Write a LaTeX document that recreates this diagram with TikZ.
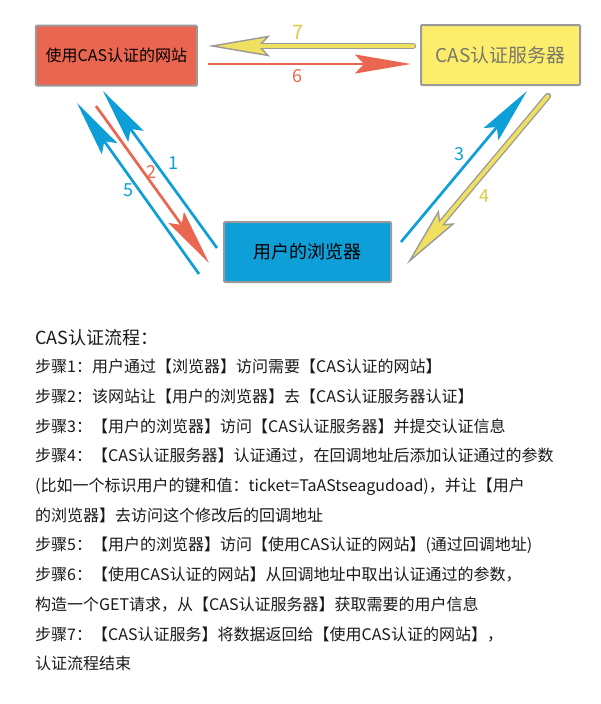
\documentclass[tikz,border=0pt]{standalone}
\usepackage{fontspec}
\setmainfont{Noto Sans CJK SC}
\usetikzlibrary{arrows.meta}

\definecolor{casred}{HTML}{EB6650}
\definecolor{casyellow}{HTML}{FCEE6C}
\definecolor{casblue}{HTML}{0E9ED8}
\definecolor{arrowyellow}{HTML}{F0E060}
\definecolor{labelyellow}{HTML}{DCCB45}
\definecolor{boxgray}{HTML}{9A9A9A}
\definecolor{servertext}{HTML}{77776A}

\tikzset{
	casbox/.style={draw=boxgray, line width=2pt, rounded corners=1pt, inner sep=0pt},
	thinarrow/.style={line width=2.7pt, -{Stealth[length=56pt, width=19pt, inset=9pt]}},
	fatarrow/.style={draw=boxgray, line width=6.5pt, line cap=round,
		-{Stealth[length=62pt, width=21pt, inset=10pt, line width=1.4pt, fill=arrowyellow]}},
	fatcore/.style={draw=arrowyellow, line width=3.8pt, line cap=round, shorten >=50pt},
	steplabel/.style={font=\fontsize{18}{20}\selectfont, inner sep=0pt},
	steptext/.style={anchor=base west, inner sep=0pt, text=black!90, font=\fontsize{16}{18}\selectfont}
}

\begin{document}
\begin{tikzpicture}[x=1pt, y=-1pt]
	\useasboundingbox (0,0) rectangle (600,704);

	% the three parties
	\node[casbox, fill=casred, minimum width=161pt, minimum height=60pt,
		font=\fontsize{16}{18}\selectfont] (site) at (116.4,55.7) {使用CAS认证的网站};
	\node[casbox, fill=casyellow, minimum width=159pt, minimum height=60pt, text=servertext,
		font=\fontsize{19}{21}\selectfont] (server) at (500.5,55) {CAS认证服务器};
	\node[casbox, fill=casblue, minimum width=167pt, minimum height=60pt,
		font=\fontsize{18}{20}\selectfont] (browser) at (307.5,252) {用户的浏览器};

	% arrow ends
	\coordinate (a1s) at (217,248); \coordinate (a1e) at (103,91);
	\coordinate (a2s) at (96,106);  \coordinate (a2e) at (209,263);
	\coordinate (a3s) at (401,242); \coordinate (a3e) at (527,91);
	\coordinate (a4s) at (548,96);  \coordinate (a4e) at (407,264);
	\coordinate (a5s) at (199,274); \coordinate (a5e) at (77,103);
	\coordinate (a6s) at (208,64);  \coordinate (a6e) at (411,64);
	\coordinate (a7s) at (413,46);  \coordinate (a7e) at (208,46);

	\draw[thinarrow, casblue] (a1s) -- (a1e);
	\draw[thinarrow, casred] (a2s) -- (a2e);
	\draw[thinarrow, casblue] (a3s) -- (a3e);
	\draw[fatarrow] (a4s) -- (a4e);
	\draw[fatcore] (a4s) -- (a4e);
	\draw[thinarrow, casblue] (a5s) -- (a5e);
	\draw[thinarrow, casred] (a6s) -- (a6e);
	\draw[fatarrow] (a7s) -- (a7e);
	\draw[fatcore] (a7s) -- (a7e);

	% step numbers
	\node[steplabel, casblue] (n1) at (173,163) {1};
	\node[steplabel, casred] (n2) at (151,172) {2};
	\node[steplabel, casblue] (n3) at (459,154) {3};
	\node[steplabel, labelyellow] (n4) at (484,196) {4};
	\node[steplabel, casblue] (n5) at (128,190) {5};
	\node[steplabel, casred] (n6) at (297,76) {6};
	\node[steplabel, labelyellow, font=\fontsize{20}{22}\selectfont] (n7) at (298,32) {7};

	% description
	\node[steptext, font=\fontsize{18}{20}\selectfont] (title) at (35,344) {CAS认证流程：};
	\foreach \line [count=\i] in {
		步骤1：用户通过【浏览器】访问需要【CAS认证的网站】,
		步骤2：该网站让【用户的浏览器】去【CAS认证服务器认证】,
		步骤3：【用户的浏览器】访问【CAS认证服务器】并提交认证信息,
		步骤4：【CAS认证服务器】认证通过，在回调地址后添加认证通过的参数,
		(比如一个标识用户的键和值：ticket=TaAStseagudoad)，并让【用户,
		的浏览器】去访问这个修改后的回调地址,
		步骤5：【用户的浏览器】访问【使用CAS认证的网站】(通过回调地址),
		步骤6：【使用CAS认证的网站】从回调地址中取出认证通过的参数，,
		构造一个GET请求，从【CAS认证服务器】获取需要的用户信息,
		步骤7：【CAS认证服务】将数据返回给【使用CAS认证的网站】，,
		认证流程结束}
		\node[steptext] (s\i) at (35,{372.7+29.7*(\i-1)}) {\line};
\end{tikzpicture}
\end{document}
